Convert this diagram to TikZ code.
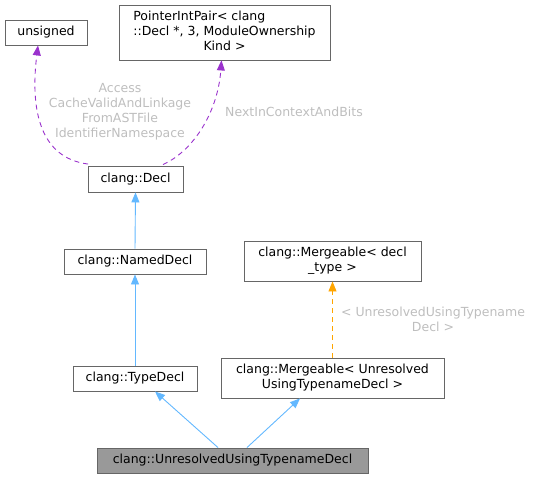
\documentclass[tikz,border=0pt]{standalone}
\usepackage{fontspec}
\setmainfont{DejaVu Sans}
\usetikzlibrary{arrows.meta}
\definecolor{boxline}{HTML}{666666}
\definecolor{mainfill}{HTML}{999999}
\definecolor{inhblue}{HTML}{63B8FF}
\definecolor{usepurple}{HTML}{9A32CD}
\definecolor{tmplorange}{HTML}{FFA500}
\definecolor{lblgray}{HTML}{BEBEBE}
\begin{document}
\begin{tikzpicture}[x=1pt,y=-1pt,
  font=\fontsize{12.5}{15}\selectfont,
  classbox/.style={draw=boxline,line width=0.9pt,fill=white,inner sep=0pt,align=center,text=black},
  mainbox/.style={classbox,fill=mainfill},
  inh/.style={draw=inhblue,line width=0.9pt,-{Triangle[length=10pt,width=8pt]}},
  usage/.style={draw=usepurple,line width=0.9pt,dash pattern=on 5pt off 4pt,-{Triangle[length=10pt,width=8pt,fill=usepurple]}},
  tmpl/.style={draw=tmplorange,line width=0.9pt,dash pattern=on 5pt off 4pt,-{Triangle[length=10pt,width=8pt,fill=tmplorange]}},
  elabel/.style={text=lblgray,align=center,inner sep=0pt}
]
\useasboundingbox (0,0) rectangle (535,479);
\node[classbox,minimum width=82pt,minimum height=25pt] (unsigned) at (46,32.5) {unsigned};
\node[classbox,minimum width=211pt,minimum height=55pt] (ptr) at (224.5,32.5)
  {\begin{tabular}{@{}l@{}}PointerIntPair< clang\\::Decl *, 3, ModuleOwnership\\\multicolumn{1}{@{}c@{}}{Kind >}\end{tabular}};
\node[classbox,minimum width=95pt,minimum height=26pt] (decl) at (135.5,179) {clang::Decl};
\node[classbox,minimum width=142pt,minimum height=25pt] (named) at (135,261.5) {clang::NamedDecl};
\node[classbox,minimum width=124pt,minimum height=25pt] (type) at (135,378.5) {clang::TypeDecl};
\node[classbox,minimum width=177pt,minimum height=40pt] (mergd) at (332.5,261) {clang::Mergeable< decl\\\_type >};
\node[classbox,minimum width=223pt,minimum height=40pt] (mergu) at (332.5,378) {clang::Mergeable< Unresolved\\UsingTypenameDecl >};
\node[mainbox,minimum width=271pt,minimum height=25pt] (unres) at (232.5,460.5) {clang::UnresolvedUsingTypenameDecl};

\draw[usage] ([xshift=0.5pt,yshift=1.5pt]decl.north west) .. controls (40,158) and (30,110) .. ([xshift=-8pt]unsigned.south);
\draw[usage] ([xshift=27.5pt,yshift=1pt]decl.north) .. controls (195,150) and (218,110) .. ([xshift=-3pt]ptr.south);
\node[elabel] (lblA) at (120,112) {Access\\CacheValidAndLinkage\\FromASTFile\\IdentifierNamespace};
\node[elabel,anchor=west] (lblB) at (225,112) {NextInContextAndBits};

\draw[inh] (named.north) -- (decl.south);
\draw[inh] (type.north) -- (named.south);
\draw[inh] ([xshift=-14.5pt]unres.north) -- ([xshift=20pt]type.south);
\draw[inh] ([xshift=14.5pt]unres.north) -- ([xshift=-32.5pt]mergu.south);
\draw[tmpl] (mergu.north) -- (mergd.south);
\node[elabel] (lblC) at (433,319) {< UnresolvedUsingTypename\\Decl >};
\end{tikzpicture}
\end{document}
